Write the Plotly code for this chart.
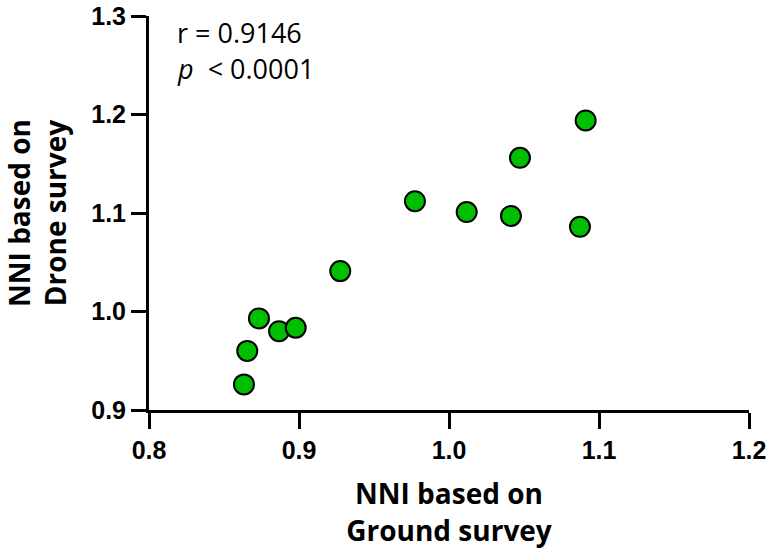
import plotly.graph_objects as go

ground = [0.8633, 0.8655, 0.8733, 0.8867, 0.8978, 0.9275, 0.9773, 1.0118, 1.0413, 1.0473, 1.0873, 1.0911]
drone = [0.926, 0.960, 0.993, 0.980, 0.9835, 1.041, 1.112, 1.101, 1.097, 1.156, 1.086, 1.194]

x_ticks = [0.8, 0.9, 1.0, 1.1, 1.2]
x_tick_labels = ["0.8", "0.9", "1.0", "1.1", "1.2"]
y_ticks = [0.9, 1.0, 1.1, 1.2, 1.3]
y_tick_labels = ["0.9", "1.0", "1.1", "1.2", "1.3"]

x_title = "NNI based on<br>Ground survey"
y_title = "NNI based on<br>Drone survey"
stat_line1 = "r = 0.9146"
stat_line2 = "<i>p</i>  &lt; 0.0001"

fig = go.Figure()
fig.add_trace(go.Scatter(
    x=ground, y=drone, mode="markers",
    marker=dict(size=20, color="rgb(0,190,0)", line=dict(color="black", width=2)),
    cliponaxis=False, showlegend=False,
))

tick_font = dict(family="Liberation Sans", size=25, color="black", weight=700)
title_font = dict(family="Open Sans", size=28, color="black", weight=700)
stat_font = dict(family="Open Sans", size=27, color="black")

fig.update_layout(
    width=770, height=558,
    margin=dict(l=149, r=21, t=16, b=148),
    paper_bgcolor="white", plot_bgcolor="white",
    xaxis=dict(
        range=[0.8, 1.2], tickvals=x_ticks, ticktext=x_tick_labels,
        showgrid=False, zeroline=False, showline=True, linecolor="black", linewidth=3,
        ticks="outside", ticklen=16, tickwidth=3, tickcolor="black",
        tickfont=tick_font, ticklabeloverflow="allow", automargin=False,
        title=dict(text=x_title, font=title_font, standoff=22),
    ),
    yaxis=dict(
        range=[0.9, 1.3], tickvals=y_ticks, ticktext=y_tick_labels,
        showgrid=False, zeroline=False, showline=True, linecolor="black", linewidth=3,
        ticks="outside", ticklen=15, tickwidth=3, tickcolor="black",
        tickfont=tick_font, ticklabeloverflow="allow", automargin=False,
        title=dict(text=y_title, font=title_font, standoff=18),
    ),
    annotations=[
        dict(text=stat_line1, xref="paper", yref="paper", x=0.043, y=1.01,
             xanchor="left", yanchor="top", showarrow=False, align="left", font=stat_font),
        dict(text=stat_line2, xref="paper", yref="paper", x=0.043, y=0.918,
             xanchor="left", yanchor="top", showarrow=False, align="left", font=stat_font),
    ],
)

fig.write_html("out.html")
